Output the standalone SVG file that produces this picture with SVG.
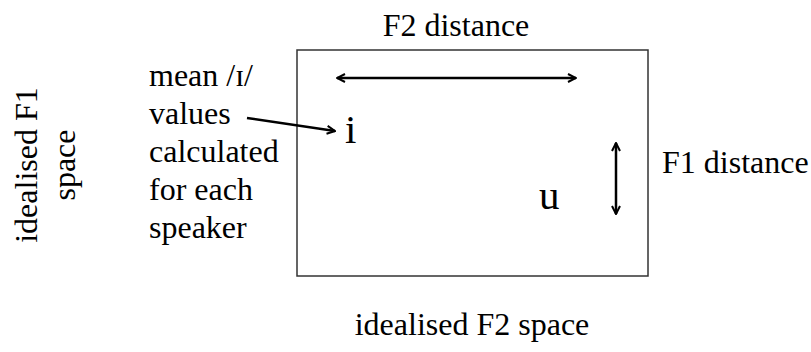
<svg xmlns="http://www.w3.org/2000/svg" width="811" height="352" viewBox="0 0 811 352" font-family="'Liberation Serif', 'Times New Roman', serif">
<defs>
<style>
text{fill:#000}
.t{font-size:32px}
.v{font-size:41px}
.arr{stroke:#000;stroke-width:2.5;fill:none}
</style>
<marker id="ah" viewBox="0 0 10 10" refX="9" refY="5" markerWidth="4" markerHeight="4" orient="auto-start-reverse" markerUnits="strokeWidth">
<path d="M1,1 L9,5 L1,9" fill="none" stroke="#000" stroke-width="2"/>
</marker>
</defs>
<rect width="811" height="352" fill="#fff"/>
<g id="space-box">
<rect x="297" y="50" width="351" height="226" fill="none" stroke="#333" stroke-width="1.5"/>
</g>
<g id="label-f2-distance"><text class="t" x="456" y="36" text-anchor="middle">F2 distance</text></g>
<g id="label-f1-distance"><text class="t" x="662" y="173">F1 distance</text></g>
<g id="label-f2-space"><text class="t" x="472" y="335" text-anchor="middle">idealised F2 space</text></g>
<g id="label-f1-space"><text class="t" transform="translate(0,165) rotate(-90)" text-anchor="middle"><tspan x="0" y="37">idealised F1</tspan><tspan x="0" y="75">space</tspan></text></g>
<g id="label-mean"><text class="t"><tspan x="149" y="86">mean /ɪ/</tspan><tspan x="149" y="124">values</tspan><tspan x="149" y="162">calculated</tspan><tspan x="149" y="200">for each</tspan><tspan x="149" y="238">speaker</tspan></text></g>
<g id="vowel-i"><text class="v" x="345" y="143">i</text></g>
<g id="vowel-u"><text class="v" x="539" y="209">u</text></g>
<g id="connectors">
<line class="arr" x1="337" y1="78" x2="576" y2="78" marker-start="url(#ah)" marker-end="url(#ah)"/>
<line class="arr" x1="616" y1="143" x2="616" y2="214" marker-start="url(#ah)" marker-end="url(#ah)"/>
<line class="arr" x1="247" y1="118" x2="335" y2="131" marker-end="url(#ah)"/>
</g>
</svg>
